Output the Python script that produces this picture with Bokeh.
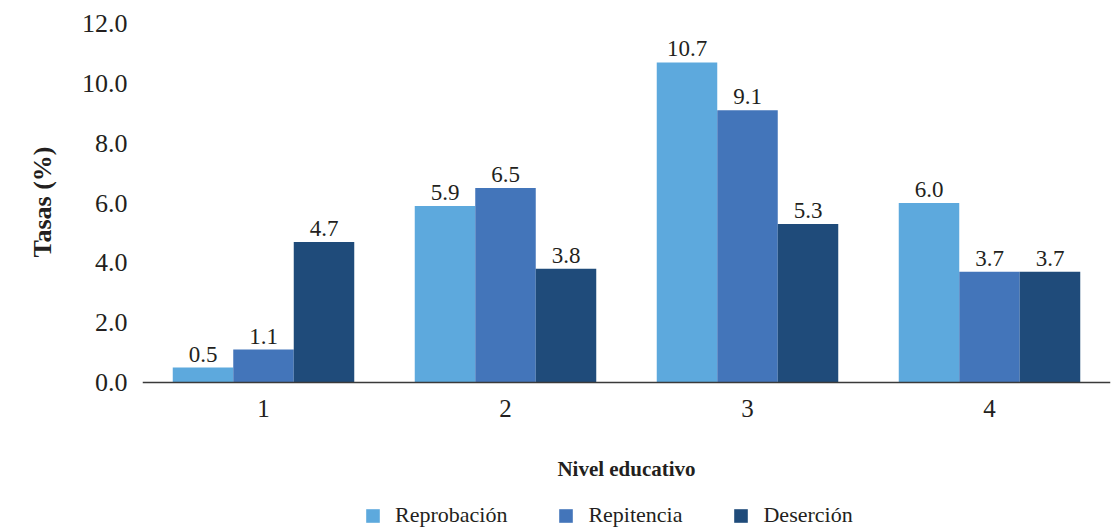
from bokeh.plotting import figure
from bokeh.models import ColumnDataSource, Range1d, FactorRange, Legend, LegendItem, NumeralTickFormatter, FixedTicker, Title
from bokeh.transform import dodge
from bokeh.core.properties import value
from bokeh.embed import file_html
from bokeh.resources import INLINE

categories = ["1", "2", "3", "4"]
series_names = ["Reprobación", "Repitencia", "Deserción"]
reprobacion = [0.5, 5.9, 10.7, 6.0]
repitencia = [1.1, 6.5, 9.1, 3.7]
desercion = [4.7, 3.8, 5.3, 3.7]
y_ticks = [0, 2, 4, 6, 8, 10, 12]
y_title = "Tasas (%)"
x_title = "Nivel educativo"

colors = ["#5DA9DD", "#4375BA", "#1F4B7A"]
FONT = "Liberation Serif"
TXT = "#231f20"

W, H = 1118, 530
TOP, LEFT, RIGHT = 23, 142, 8
ZERO_PX = 382            # pixel row of y = 0 inside the figure
Y_MAX = 12.0
px_per_unit = (ZERO_PX - TOP) / Y_MAX
y_min = -(H - ZERO_PX) / px_per_unit

source = ColumnDataSource(dict(
    cat=categories,
    s0=reprobacion, s1=repitencia, s2=desercion,
    l0=["%.1f" % v for v in reprobacion],
    l1=["%.1f" % v for v in repitencia],
    l2=["%.1f" % v for v in desercion],
))

p = figure(width=W, height=H, x_range=FactorRange(*categories, range_padding=0),
           y_range=Range1d(y_min, Y_MAX), output_backend="svg", toolbar_location=None,
           min_border_left=LEFT, min_border_right=RIGHT, min_border_top=TOP, min_border_bottom=0)
p.outline_line_color = None
p.xgrid.grid_line_color = None
p.ygrid.grid_line_color = None
p.background_fill_color = "white"
p.border_fill_color = "white"

renderers = []
offsets = [-0.25, 0.0, 0.25]
for i, (off, col) in enumerate(zip(offsets, colors)):
    r = p.vbar(x=dodge("cat", off, range=p.x_range), top="s%d" % i, bottom=0, width=0.25,
               source=source, fill_color=col, line_color=None)
    renderers.append(r)
    p.text(x=dodge("cat", off, range=p.x_range), y="s%d" % i, text="l%d" % i, source=source,
           text_align="center", text_baseline="bottom", y_offset=-6,
           text_font=value(FONT), text_font_size="23px", text_color=TXT)

# y axis
p.yaxis.ticker = FixedTicker(ticks=y_ticks)
p.yaxis.formatter = NumeralTickFormatter(format="0.0")
p.yaxis.axis_line_color = None
p.yaxis.major_tick_line_color = None
p.yaxis.minor_tick_line_color = None
p.yaxis.major_label_standoff = 9
p.yaxis.major_label_text_font = FONT
p.yaxis.major_label_text_font_size = "26px"
p.yaxis.major_label_text_color = TXT

# y-axis title, centred on the 0-12 span rather than on the whole frame
p.add_layout(Title(text=y_title, align="left", offset=H - 257, standoff=44,
                   text_font=FONT, text_font_size="26px", text_font_style="bold",
                   text_color=TXT), "left")

# x axis, pinned at y = 0 inside the frame
p.xaxis.fixed_location = 0
p.xaxis.axis_line_color = "#3a3a3a"
p.xaxis.axis_line_width = 1.5
p.xaxis.major_tick_line_color = None
p.xaxis.minor_tick_line_color = None
p.xaxis.major_label_standoff = 11
p.xaxis.major_label_text_font = FONT
p.xaxis.major_label_text_font_size = "25px"
p.xaxis.major_label_text_color = TXT
p.xaxis.axis_label = x_title
p.xaxis.axis_label_text_font = FONT
p.xaxis.axis_label_text_font_style = "bold"
p.xaxis.axis_label_text_font_size = "21px"
p.xaxis.axis_label_text_color = TXT
p.xaxis.axis_label_standoff = 37

legend = Legend(items=[LegendItem(label=n, renderers=[r]) for n, r in zip(series_names, renderers)],
                orientation="horizontal", location=(222, 2),
                glyph_width=17, glyph_height=17, label_standoff=14, spacing=50,
                padding=0, margin=0, border_line_color=None, background_fill_alpha=0,
                label_text_font=FONT, label_text_font_size="22px", label_text_color=TXT)
p.add_layout(legend)

open("out.html", "w").write(file_html(p, INLINE))
